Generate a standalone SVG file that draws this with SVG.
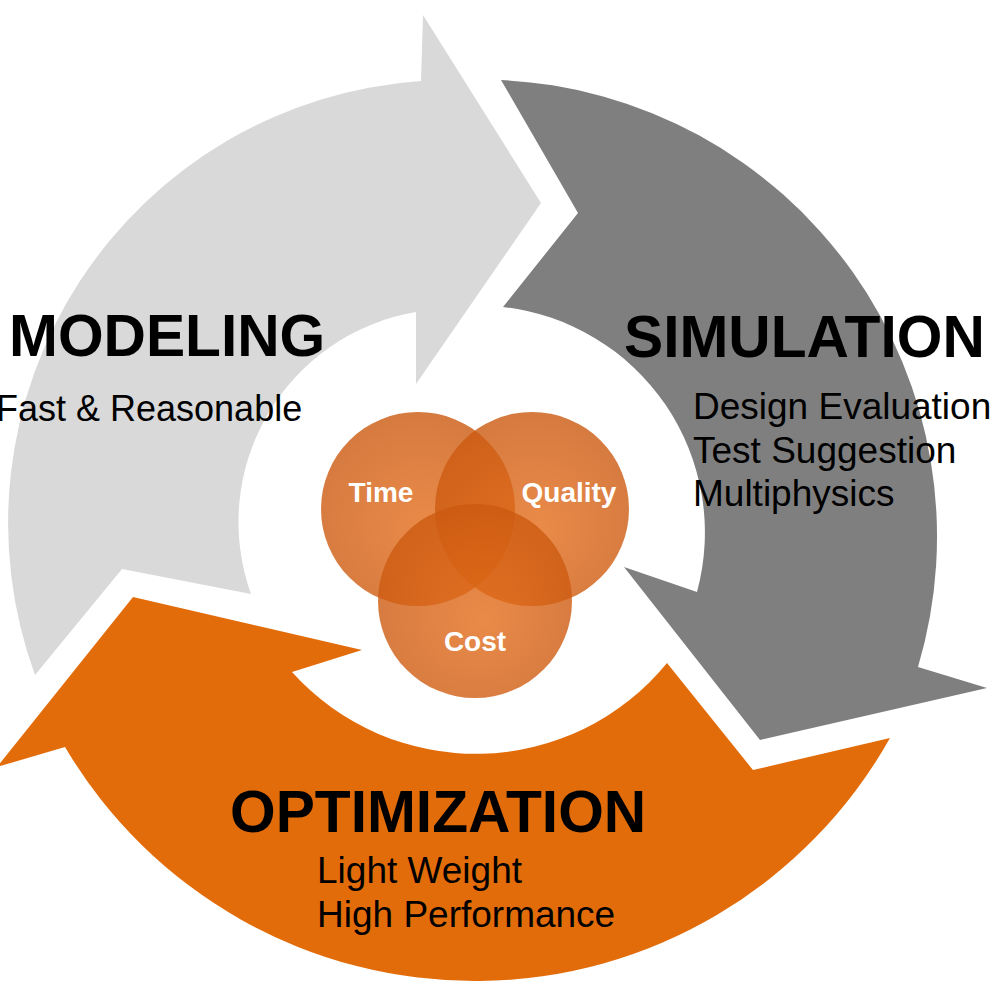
<svg xmlns="http://www.w3.org/2000/svg" width="1000" height="1000" viewBox="0 0 1000 1000">
  <style>
    .title { font-family: "Liberation Sans", Arial, sans-serif; font-weight: bold; font-size: 58.7px; fill: #000000; }
    .sub { font-family: "Liberation Sans", Arial, sans-serif; font-size: 37px; fill: #000000; }
    .venn-label { font-family: "Liberation Sans", Arial, sans-serif; font-weight: bold; font-size: 28px; fill: #FFFFFF; text-anchor: middle; }
    .venn { fill: url(#vennGrad); }
  </style>
  <defs>
    <radialGradient id="vennGrad" cx="50%" cy="55%" r="55%" fx="55%" fy="60%">
      <stop offset="0%" stop-color="#E46D1A" stop-opacity="0.8"/>
      <stop offset="100%" stop-color="#CB5910" stop-opacity="0.8"/>
    </radialGradient>
  </defs>
  <rect x="0" y="0" width="1000" height="1000" fill="#FFFFFF"/>

  <g id="connectors">
    <path id="arrow-modeling" fill="#D9D9D9" d="M 35 675 A 443 443 0 0 1 421 81 L 423 15 L 541 203 L 416 384 L 416 312 A 213 213 0 0 0 251 594 L 122 569 Z"/>
    <path id="arrow-simulation" fill="#7F7F7F" d="M 501 80 A 457 457 0 0 1 918 667 L 987 688 L 760 740 L 624 567 L 697 592 A 227 227 0 0 0 503 307 L 578 213 Z"/>
    <path id="arrow-optimization" fill="#E36C0A" d="M 890 738 A 476 476 0 0 1 65 747 L -3 767 L 133 597 L 362 650 L 292 672 A 247 247 0 0 0 667 663 L 753 770 Z"/>
  </g>

  <g id="node-modeling">
    <text class="title" x="9" y="356">MODELING</text>
    <text class="sub" x="-4" y="421" style="font-size:36px">Fast &amp; Reasonable</text>
  </g>

  <g id="node-simulation">
    <text class="title" x="624" y="357">SIMULATION</text>
    <text class="sub" x="693" y="419">Design Evaluation</text>
    <text class="sub" x="693" y="463">Test Suggestion</text>
    <text class="sub" x="693" y="506">Multiphysics</text>
  </g>

  <g id="node-optimization">
    <text class="title" x="230" y="832">OPTIMIZATION</text>
    <text class="sub" x="317" y="883">Light Weight</text>
    <text class="sub" x="317" y="927">High Performance</text>
  </g>

  <g id="node-venn">
    <g id="venn-time">
      <circle class="venn" cx="418" cy="509" r="97"/>
    </g>
    <g id="venn-quality">
      <circle class="venn" cx="532" cy="509" r="97"/>
    </g>
    <g id="venn-cost">
      <circle class="venn" cx="475" cy="601" r="97"/>
    </g>
    <text class="venn-label" x="381" y="502">Time</text>
    <text class="venn-label" x="569" y="502">Quality</text>
    <text class="venn-label" x="475" y="651">Cost</text>
  </g>
</svg>
